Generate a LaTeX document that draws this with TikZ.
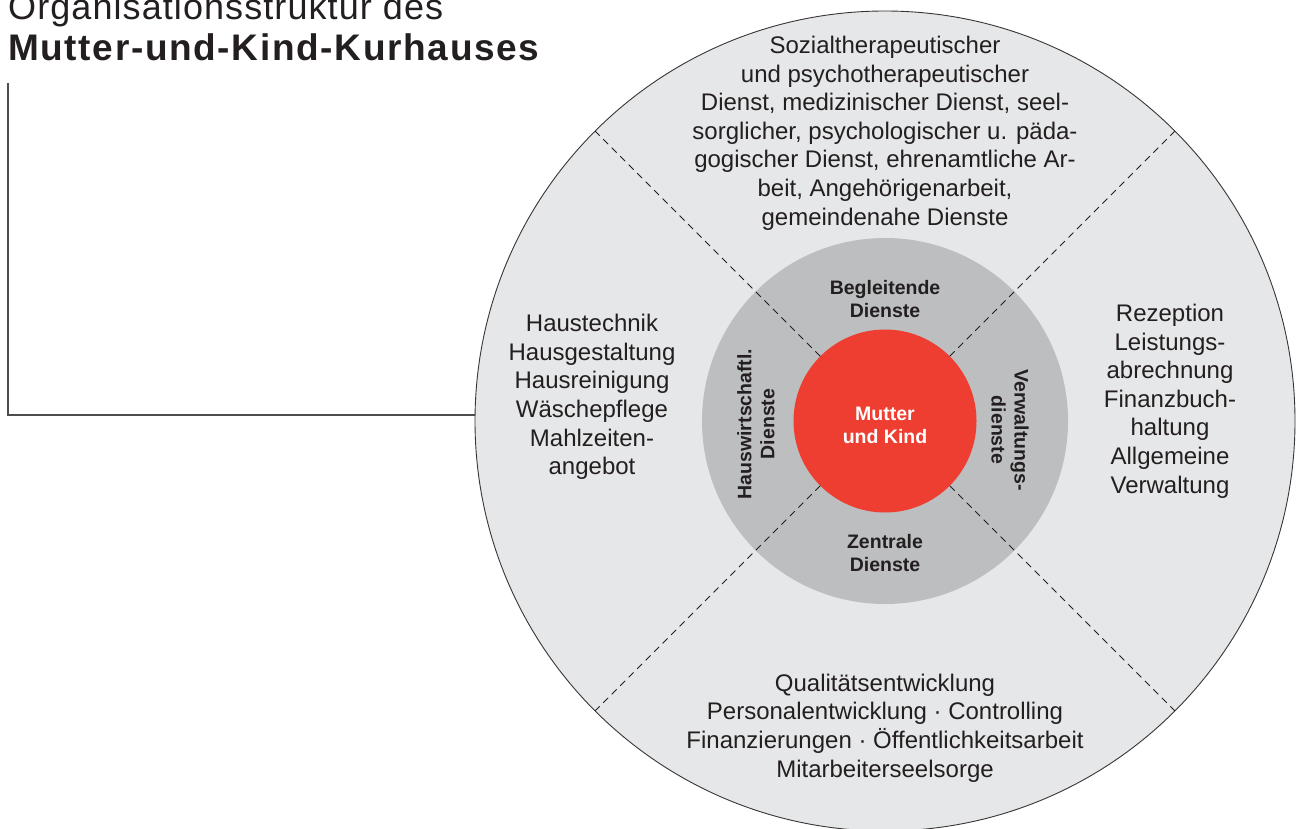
\documentclass[tikz,border=0pt]{standalone}
\usepackage{fontspec}
\setmainfont{Liberation Sans}
\definecolor{txt}{HTML}{231F20}
\definecolor{outerfill}{HTML}{E6E7E8}
\definecolor{ringfill}{HTML}{BCBEC0}
\definecolor{redfill}{HTML}{EE3D31}
\begin{document}
\begin{tikzpicture}[x=1pt,y=-1pt,
  outertext/.style={text=txt, align=center, font=\fontsize{24}{28.6}\selectfont, inner sep=0pt},
  innertext/.style={text=txt, align=center, font=\fontsize{19.5}{23}\selectfont\bfseries, inner sep=0pt},
  divider/.style={draw=txt, line width=0.8pt, dash pattern=on 7pt off 5pt},
  disc/.style={circle, inner sep=0pt, outer sep=0pt},
  titletext/.style={anchor=base west, inner sep=0pt, text=txt}]
\useasboundingbox (0,0) rectangle (1297,829);
% bracket
\coordinate (bt) at (8,83);
\coordinate (bk) at (476,415);
\draw[line width=1.2pt, draw=txt!80] (bt) |- (bk);
% discs
\node[disc, fill=outerfill, draw=txt!90, line width=0.9pt, minimum size=820pt] (outer) at (885,421) {};
\node[disc, fill=ringfill, minimum size=366pt] (ring) at (885,421) {};
\node[disc, fill=redfill, minimum size=183pt] (core) at (885,421) {};
\foreach \a in {45,135,225,315} \draw[divider] (core.\a) -- (outer.\a);
% outer texts
\node[outertext] (topt) at (885,133) {Sozialtherapeutischer\\und psychotherapeutischer\\Dienst, medizinischer Dienst, seel-\\sorglicher, psychologischer u. päda-\\gogischer Dienst, ehrenamtliche Ar-\\beit, Angehörigenarbeit,\\gemeindenahe Dienste};
\node[outertext] (leftt) at (592,397) {Haustechnik\\Hausgestaltung\\Hausreinigung\\Wäschepflege\\Mahlzeiten-\\angebot};
\node[outertext] (rightt) at (1170,401) {Rezeption\\Leistungs-\\abrechnung\\Finanzbuch-\\haltung\\Allgemeine\\Verwaltung};
\node[outertext] (bott) at (885,728) {Qualitätsentwicklung\\Personalentwicklung · Controlling\\Finanzierungen · Öffentlichkeitsarbeit\\Mitarbeiterseelsorge};
% inner texts
\node[innertext] (begl) at (885,299) {Begleitende\\Dienste};
\node[innertext] (zent) at (885,553) {Zentrale\\Dienste};
\node[innertext, rotate=90] (haus) at (756,424) {Hauswirtschaftl.\\Dienste};
\node[innertext, rotate=-90] (verw) at (1010,430) {Verwaltungs-\\dienste};
\node[innertext, text=white] (mk) at (885,425) {Mutter\\und Kind};
% title
\node[titletext, font=\fontsize{36}{40}\selectfont\addfontfeature{LetterSpace=3}] (title1) at (8,20) {Organisationsstruktur des};
\node[titletext, font=\fontsize{37}{40}\selectfont\bfseries\addfontfeature{LetterSpace=4.5}] (title2) at (8,61) {Mutter-und-Kind-Kurhauses};
\end{tikzpicture}
\end{document}
